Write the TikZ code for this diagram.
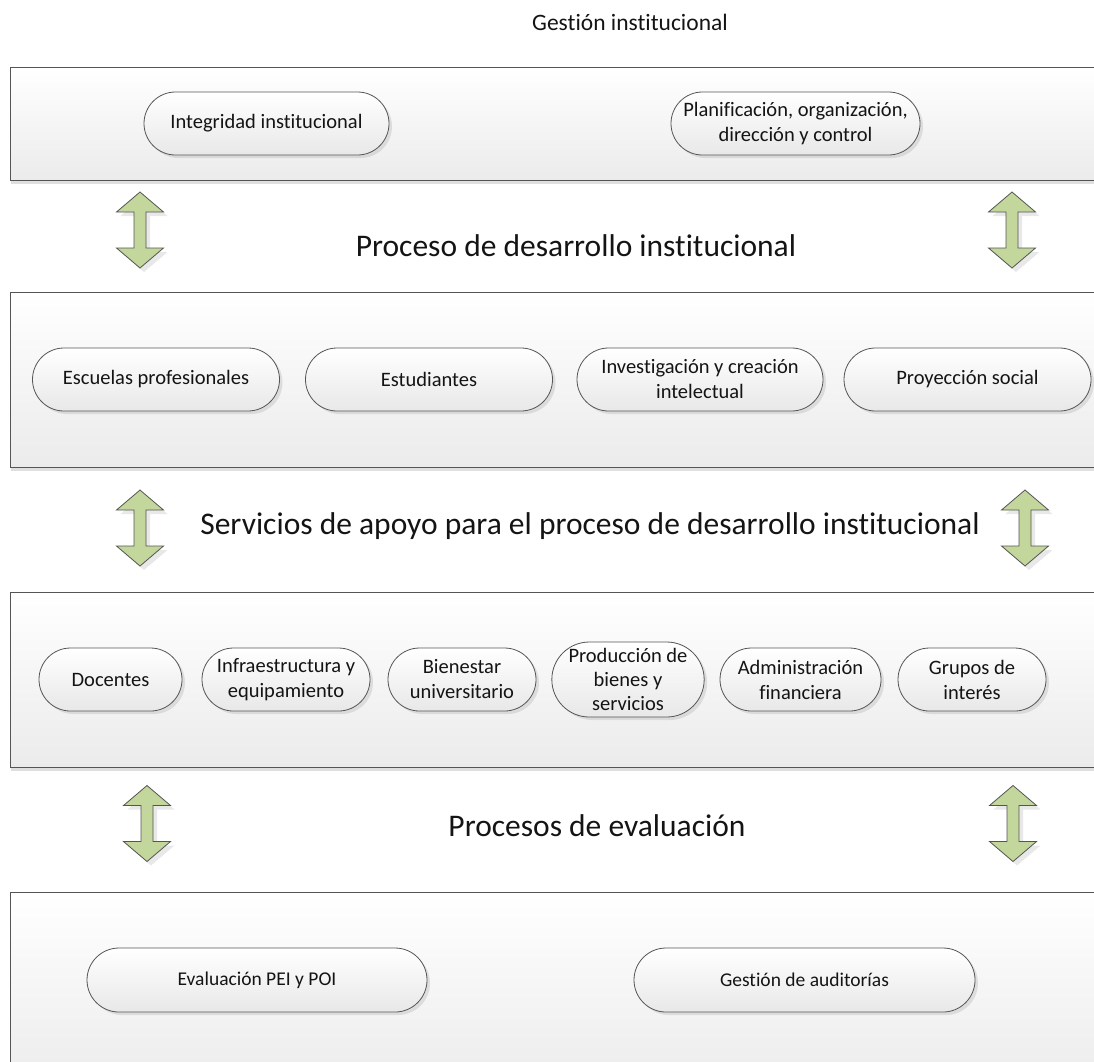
\documentclass[tikz,border=0pt]{standalone}
\usepackage{fontspec}
\setmainfont{Carlito}[Ligatures=NoCommon]
\usetikzlibrary{shapes.misc,shadows}
\definecolor{arrowgreen}{RGB}{195,214,155}
\definecolor{edgegray}{RGB}{85,85,85}
\definecolor{bandlow}{RGB}{235,235,235}
\definecolor{pilllow}{RGB}{232,232,232}
\definecolor{inkblack}{RGB}{20,20,20}
\tikzset{
  band/.style={rectangle, draw=edgegray, line width=1.1pt, top color=white, bottom color=bandlow,
    drop shadow={shadow xshift=0pt, shadow yshift=-3pt, opacity=0.25, fill=gray},
    inner sep=0pt, anchor=north west},
  pill/.style={rounded rectangle, draw=edgegray, line width=0.8pt, top color=white, bottom color=pilllow,
    drop shadow={shadow xshift=3pt, shadow yshift=-3pt, opacity=0.2, fill=gray},
    inner sep=0pt, align=center, text=inkblack, font=\fontsize{20.5}{25}\selectfont},
  heading/.style={text=inkblack, font=\fontsize{31.5}{36}\selectfont, inner sep=0pt},
  updown/.pic={
    \path[fill=arrowgreen, draw=edgegray, line width=0.8pt,
      drop shadow={shadow xshift=4pt, shadow yshift=-4pt, opacity=0.18, fill=gray}]
      (0,-38) -- (23.5,-18) -- (6,-18) -- (6,18) -- (23.5,18) -- (0,38)
      -- (-23.5,18) -- (-6,18) -- (-6,-18) -- (-23.5,-18) -- cycle;
  }
}
\begin{document}
\begin{tikzpicture}[x=1pt, y=-1pt]
  \useasboundingbox (0,0) rectangle (1094,1061);
  \clip (0,0) rectangle (1094,1061);

  % title
  \node[text=inkblack, font=\fontsize{23.5}{28}\selectfont, inner sep=0pt] (title) at (630,22) {Gestión institucional};

  % four layers
  \node[band, minimum width=1110pt, minimum height=113pt] (layer1) at (10,67) {};
  \node[band, minimum width=1110pt, minimum height=175pt] (layer2) at (10,292) {};
  \node[band, minimum width=1110pt, minimum height=175pt] (layer3) at (10,592) {};
  \node[band, minimum width=1110pt, minimum height=200pt] (layer4) at (10,892) {};

  % headings between the layers
  \node[heading] (h1) at (576,246) {Proceso de desarrollo institucional};
  \node[heading] (h2) at (590,526) {Servicios de apoyo para el proceso de desarrollo institucional};
  \node[heading] (h3) at (597,826) {Procesos de evaluación};

  % two-way arrows
  \pic at (140,230) {updown};
  \pic at (1012,230) {updown};
  \pic at (140,528) {updown};
  \pic at (1025,528) {updown};
  \pic at (147,823.5) {updown};
  \pic at (1013,823.5) {updown};

  % layer 1
  \node[pill, minimum width=245pt, minimum height=63pt] (integ) at (266.5,123.5) {Integridad institucional};
  \node[pill, minimum width=249pt, minimum height=63pt] (plan) at (795.5,123.5) {Planificación, organización,\\dirección y control};

  % layer 2
  \node[pill, minimum width=247pt, minimum height=63pt] (escu) at (156,379.5) {Escuelas profesionales};
  \node[pill, minimum width=247pt, minimum height=63pt] (estu) at (429,379.5) {Estudiantes};
  \node[pill, minimum width=246pt, minimum height=63pt] (inve) at (700,379.5) {Investigación y creación\\intelectual};
  \node[pill, minimum width=247pt, minimum height=63pt] (proy) at (967.5,379.5) {Proyección social};

  % layer 3
  \node[pill, minimum width=143pt, minimum height=63pt] (doce) at (110.5,679.5) {Docentes};
  \node[pill, minimum width=168pt, minimum height=63pt] (infra) at (286,679.5) {Infraestructura y\\equipamiento};
  \node[pill, minimum width=148pt, minimum height=63pt] (bien) at (462,679.5) {Bienestar\\universitario};
  \node[pill, minimum width=148pt, minimum height=75pt, font=\fontsize{20.5}{24}\selectfont] (prod) at (628,679.5) {Producción de\\bienes y\\servicios};
  \node[pill, minimum width=161pt, minimum height=63pt] (admi) at (800.5,679.5) {Administración\\financiera};
  \node[pill, minimum width=148pt, minimum height=63pt] (grup) at (972,679.5) {Grupos de\\interés};

  % layer 4
  \node[pill, minimum width=340pt, minimum height=64pt, font=\fontsize{19.5}{24}\selectfont] (eval) at (257,980) {Evaluación PEI y POI};
  \node[pill, minimum width=341pt, minimum height=64pt, font=\fontsize{19.5}{24}\selectfont] (audi) at (804.5,980) {Gestión de auditorías};
\end{tikzpicture}
\end{document}
